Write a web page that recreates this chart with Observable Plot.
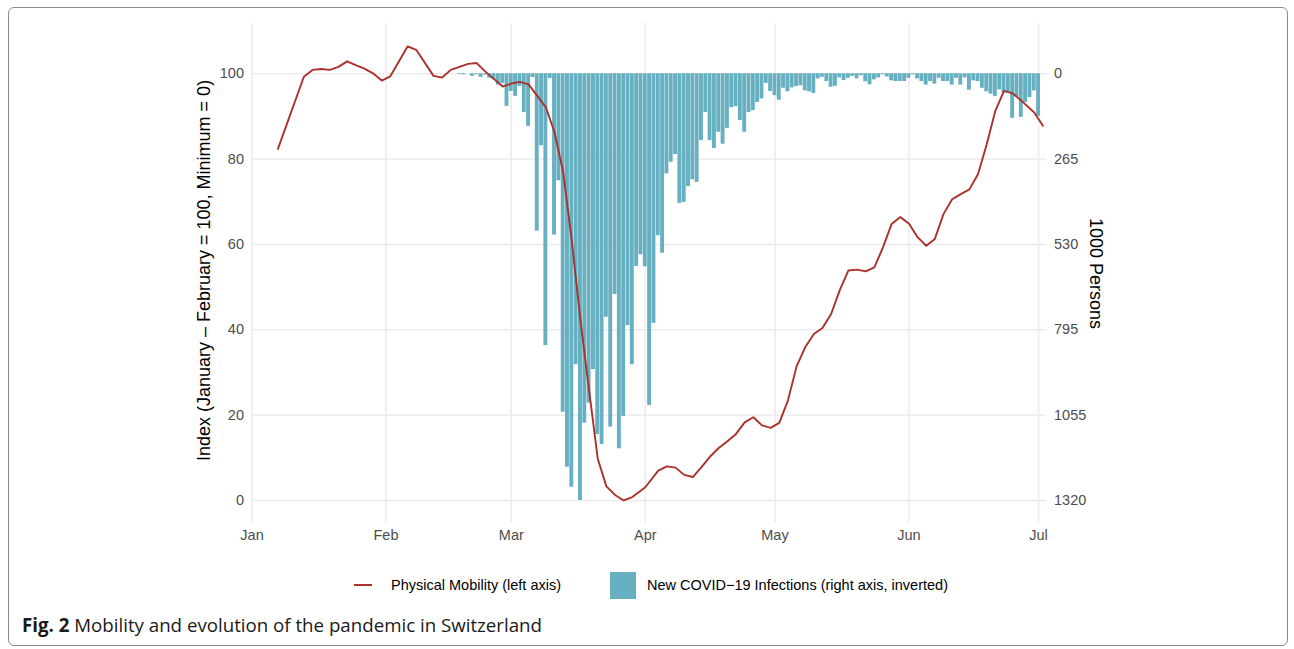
<!DOCTYPE html>
<html>
<head>
<meta charset="utf-8">
<script src="https://cdn.jsdelivr.net/npm/d3@7"></script>
<script src="https://cdn.jsdelivr.net/npm/@observablehq/plot@0.6"></script>
<style>
  html, body { margin: 0; padding: 0; background: #fff; }
  body { width: 1294px; height: 649px; position: relative; overflow: hidden; font-family: "Liberation Sans", Arial, Helvetica, sans-serif; }
  #frame { position: absolute; left: 8px; top: 7px; width: 1280px; height: 639px; border: 1px solid #8c8c8c; border-radius: 6px; box-sizing: border-box; }
  #chart { position: absolute; left: 0; top: 0; }
  .lg { position: absolute; font-size: 14.5px; color: #000; line-height: 20px; white-space: nowrap; }
  #caption { position: absolute; left: 22px; top: 615px; font-family: "Open Sans", "Noto Sans", sans-serif; font-size: 18.7px; line-height: 20px; color: #1a1a1a; white-space: nowrap; }
  #caption b { font-weight: 700; }
</style>
</head>
<body>
<div id="frame"></div>
<div id="chart"></div>
<div id="legend"></div>
<div id="caption"><b>Fig. 2</b> Mobility and evolution of the pandemic in Switzerland</div>
<script>
// ---------- DATA ----------
// Physical mobility index (left axis)
const mobilityDates = [
  "2020-01-07","2020-01-13","2020-01-15","2020-01-17","2020-01-19","2020-01-21","2020-01-23","2020-01-25",
  "2020-01-27","2020-01-29","2020-01-31","2020-02-02","2020-02-06","2020-02-08","2020-02-12","2020-02-14",
  "2020-02-16","2020-02-18","2020-02-20","2020-02-22","2020-02-24","2020-02-28","2020-03-01","2020-03-03",
  "2020-03-05","2020-03-07","2020-03-09","2020-03-11","2020-03-13","2020-03-15","2020-03-17","2020-03-19",
  "2020-03-21","2020-03-23","2020-03-25","2020-03-27","2020-03-29","2020-04-01","2020-04-04","2020-04-06",
  "2020-04-08","2020-04-10","2020-04-12","2020-04-14","2020-04-16","2020-04-18","2020-04-20","2020-04-22",
  "2020-04-24","2020-04-26","2020-04-28","2020-04-30","2020-05-02","2020-05-04","2020-05-06","2020-05-08",
  "2020-05-10","2020-05-12","2020-05-14","2020-05-16","2020-05-18","2020-05-20","2020-05-22","2020-05-24",
  "2020-05-26","2020-05-28","2020-05-30","2020-06-01","2020-06-03","2020-06-05","2020-06-07","2020-06-09",
  "2020-06-11","2020-06-13","2020-06-15","2020-06-17","2020-06-19","2020-06-21","2020-06-23","2020-06-25",
  "2020-06-27","2020-06-30","2020-07-02"
];
const mobilityValues = [
  82.4, 99.3, 100.9, 101.1, 100.9, 101.6, 102.9, 102.0,
  101.2, 100.1, 98.4, 99.4, 106.4, 105.6, 99.5, 99.1,
  100.9, 101.6, 102.3, 102.5, 100.5, 97.0, 97.7, 98.1,
  97.5, 94.8, 92.1, 86.3, 76.9, 60.9, 42.2, 25.8,
  9.8, 3.3, 1.3, 0.0, 0.8, 3.1, 7.0, 8.0,
  7.7, 6.0, 5.5, 7.8, 10.3, 12.3, 13.9, 15.6,
  18.3, 19.5, 17.6, 17.0, 18.2, 23.4, 31.4, 35.9,
  39.0, 40.4, 43.7, 49.3, 53.9, 54.1, 53.7, 54.6,
  59.3, 64.8, 66.4, 64.9, 61.7, 59.7, 61.3, 67.1,
  70.6, 71.8, 72.9, 76.5, 83.5, 91.3, 96.0, 95.4,
  93.7, 90.9, 87.8
];

// New COVID-19 infections per day (right axis, inverted), daily from caseStartDate
const caseStartDate = "2020-02-18";
const caseValues = [
  2, 3, 0, 8, 3, 11, 4, 14, 18, 35, 30,                 // Feb 18 - Feb 28
  101, 55, 70, 39, 120, 163, 12, 487, 223, 841,          // Feb 29 - Mar 9
  15, 499, 331, 1047, 1217, 1279, 900, 1320, 1081, 1019, // Mar 10 - Mar 19
  915, 1116, 1147, 753, 1093, 683, 1160, 1060, 779, 900, // Mar 20 - Mar 29
  596, 560, 597, 1026, 772, 501, 555, 310, 274, 250,     // Mar 30 - Apr 8
  401, 398, 349, 328, 336, 207, 120, 207, 231, 181,      // Apr 9 - Apr 18
  218, 169, 105, 102, 145, 181, 120, 114, 89, 78,        // Apr 19 - Apr 28
  30, 55, 68, 82, 45, 56, 44, 40, 37, 53,                // Apr 29 - May 8
  56, 61, 16, 11, 24, 42, 39, 13, 21, 14,                // May 9 - May 18
  8, 16, 6, 25, 34, 19, 13, 3, 10, 22,                   // May 19 - May 28
  24, 24, 24, 14, 3, 16, 24, 35, 24, 32,                 // May 29 - Jun 7
  14, 24, 24, 35, 14, 35, 13, 51, 22, 24,                // Jun 8 - Jun 17
  45, 56, 63, 70, 50, 60, 60, 138, 73, 135,              // Jun 18 - Jun 27
  89, 74, 53, 132                                        // Jun 28 - Jul 1
];

// Axes
const monthTickDates = ["2020-01-01","2020-02-01","2020-03-01","2020-04-01","2020-05-01","2020-06-01","2020-07-01"];
const monthTickLabels = ["Jan","Feb","Mar","Apr","May","Jun","Jul"];
const leftTicks = [0, 20, 40, 60, 80, 100];
const rightTickLabels = ["1320", "1055", "795", "530", "265", "0"]; // at left ticks 0..100
const rightAxisMax = 1320;   // infections value shown at left-axis 0
const leftTitle = "Index (January \u2013 February = 100, Minimum = 0)";
const rightTitle = "1000 Persons";
const legendLine = "Physical Mobility (left axis)";
const legendBar = "New COVID\u221219 Infections (right axis, inverted)";

const lineColor = "#ab312b";
const barColor = "#67b0c1";

// ---------- BUILD ----------
const parse = d3.utcParse("%Y-%m-%d");
const mob = mobilityDates.map((d, i) => ({date: parse(d), value: mobilityValues[i]}));
const start = parse(caseStartDate);
const cases = caseValues.map((v, i) => ({date: d3.utcDay.offset(start, i), value: v}));
const monthTicks = monthTickDates.map(parse);
const DAY = 86400000;
const half = 0.45 * DAY;

const chart = Plot.plot({
  width: 1294,
  height: 560,
  marginLeft: 251.5,
  marginRight: 247.5,
  marginTop: 23.3,
  marginBottom: 37.4,
  style: {fontFamily: "'Liberation Sans', Arial, Helvetica, sans-serif", fontSize: "14.5px", background: "transparent", color: "#4d4d4d"},
  x: {type: "utc", domain: [parse("2020-01-01"), new Date(+parse("2020-07-01") + 1.95 * DAY)]},
  y: {domain: [-5.3, 111.7]},
  marks: [
    Plot.gridX(monthTicks, {stroke: "#ebebeb", strokeOpacity: 1, strokeWidth: 1.5}),
    Plot.gridY(leftTicks, {stroke: "#ebebeb", strokeOpacity: 1, strokeWidth: 1.5}),
    Plot.rect(cases, {
      x1: d => new Date(+d.date - half),
      x2: d => new Date(+d.date + half),
      y1: () => 100,
      y2: d => 100 - d.value / rightAxisMax * 100,
      fill: barColor
    }),
    Plot.line(mob, {x: "date", y: "value", stroke: lineColor, strokeWidth: 1.9}),
    Plot.axisX(monthTicks, {tickSize: 0, tickPadding: 7, label: null, fill: "#4d4d4d",
      tickFormat: d => monthTickLabels[monthTicks.findIndex(t => +t === +d)]}),
    Plot.axisY(leftTicks, {anchor: "left", tickSize: 0, tickPadding: 8, label: null, fill: "#4d4d4d"}),
    Plot.axisY(leftTicks, {anchor: "right", tickSize: 0, tickPadding: 7, label: null, fill: "#4d4d4d",
      tickFormat: d => rightTickLabels[leftTicks.indexOf(d)]}),
    Plot.text([leftTitle], {text: d => d, frameAnchor: "left", dx: -47.5, dy: -3, rotate: -90, fontSize: 18, fill: "#000", textAnchor: "middle"}),
    Plot.text([rightTitle], {text: d => d, frameAnchor: "right", dx: 48.5, rotate: 90, fontSize: 18, fill: "#000", textAnchor: "middle"})
  ]
});
document.getElementById("chart").appendChild(chart);

// Legend
const lg = document.getElementById("legend");
lg.innerHTML = `
  <div style="position:absolute;left:354px;top:584px;width:18px;height:2px;background:${lineColor}"></div>
  <div class="lg" style="left:391px;top:575px">${legendLine}</div>
  <div style="position:absolute;left:610px;top:572px;width:26px;height:27px;background:${barColor}"></div>
  <div class="lg" style="left:647px;top:575px">${legendBar}</div>
`;
</script>
</body>
</html>
